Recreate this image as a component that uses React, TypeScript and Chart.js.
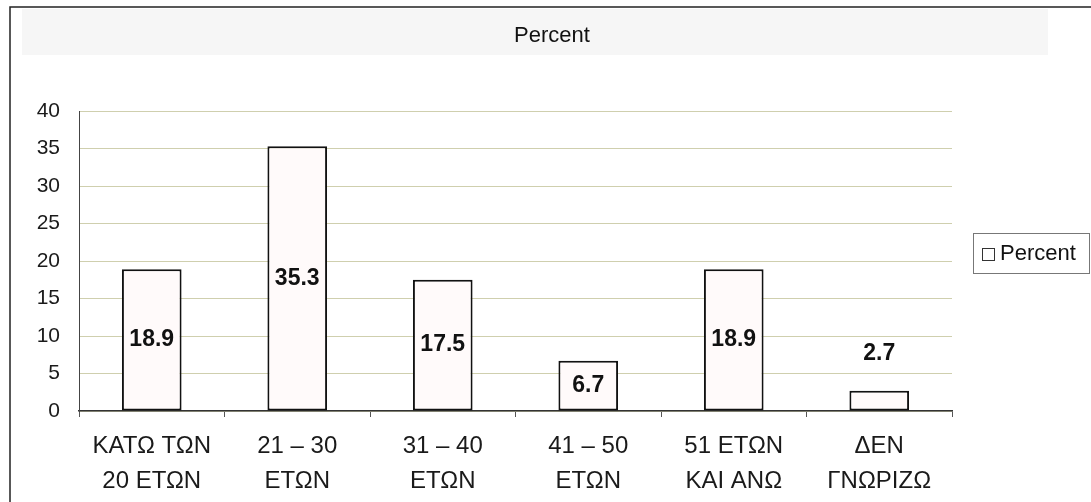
import React, { useEffect, useRef } from "react";
import { Chart, registerables } from "chart.js";

Chart.register(...registerables);

const categories: string[][] = [
  ["ΚΑΤΩ ΤΩΝ", "20 ΕΤΩΝ"],
  ["21 – 30", "ΕΤΩΝ"],
  ["31 – 40", "ΕΤΩΝ"],
  ["41 – 50", "ΕΤΩΝ"],
  ["51 ΕΤΩΝ", "ΚΑΙ ΑΝΩ"],
  ["ΔΕΝ", "ΓΝΩΡΙΖΩ"],
];
const percentValues: number[] = [18.9, 35.3, 17.5, 6.7, 18.9, 2.7];
const seriesName = "Percent";
const yTicks: number[] = [0, 5, 10, 15, 20, 25, 30, 35, 40];

const FONT = "Arial, 'Liberation Sans', sans-serif";

const decorPlugin = {
  id: "decor",
  beforeDraw(chart: any) {
    const ctx = chart.ctx;
    ctx.save();
    ctx.fillStyle = "#f6f6f6";
    ctx.fillRect(22, 9, 1026, 46);
    ctx.fillStyle = "#111";
    ctx.font = `22px ${FONT}`;
    ctx.textAlign = "center";
    ctx.textBaseline = "middle";
    ctx.fillText(seriesName, 552, 36);
    ctx.restore();
  },
  afterDraw(chart: any) {
    const ctx = chart.ctx;
    ctx.save();
    // outer frame (left & top)
    ctx.strokeStyle = "#222";
    ctx.lineWidth = 1.5;
    ctx.beginPath();
    ctx.moveTo(10, 502);
    ctx.lineTo(10, 7);
    ctx.lineTo(1091, 7);
    ctx.stroke();

    // data labels
    const meta = chart.getDatasetMeta(0);
    const data = chart.data.datasets[0].data as number[];
    ctx.font = `bold 23px ${FONT}`;
    ctx.fillStyle = "#111";
    ctx.textAlign = "center";
    ctx.textBaseline = "middle";
    meta.data.forEach((el: any, i: number) => {
      const h = el.base - el.y;
      const y = h < 30 ? el.y - 37 : (el.y + el.base) / 2;
      ctx.fillText(String(data[i]), el.x, y);
    });

    // legend
    ctx.strokeStyle = "#777";
    ctx.lineWidth = 1;
    ctx.strokeRect(973.5, 233.5, 116, 40);
    ctx.fillStyle = "#ffffff";
    ctx.fillRect(982, 248, 12, 12);
    ctx.strokeStyle = "#333";
    ctx.strokeRect(982.5, 248.5, 12, 12);
    ctx.fillStyle = "#111";
    ctx.font = `22px ${FONT}`;
    ctx.textAlign = "left";
    ctx.textBaseline = "middle";
    ctx.fillText(seriesName, 1000, 254);
    ctx.restore();
  },
};

export default function App() {
  const ref = useRef<HTMLCanvasElement | null>(null);
  useEffect(() => {
    if (!ref.current) return;
    const chart = new Chart(ref.current, {
      type: "bar",
      data: {
        labels: categories,
        datasets: [
          {
            label: seriesName,
            data: percentValues,
            backgroundColor: "#fffafa",
            borderColor: "#111",
            borderWidth: 2,
            borderSkipped: false,
            barPercentage: 0.41,
            categoryPercentage: 1,
          },
        ],
      },
      options: {
        responsive: false,
        animation: false,
        layout: { padding: { left: 0, right: 139, top: 111, bottom: 0 } },
        plugins: {
          legend: { display: false },
          tooltip: { enabled: false },
          title: { display: false },
        },
        scales: {
          x: {
            grid: {
              offset: true,
              drawOnChartArea: false,
              drawTicks: true,
              tickLength: 6,
              color: "#555",
            },
            border: { color: "#333", width: 1.5 },
            ticks: {
              color: "#1a1a1a",
              font: { family: FONT, size: 24, lineHeight: 1.45 },
              padding: 12,
              maxRotation: 0,
              autoSkip: false,
            },
            afterFit(scale: any) {
              scale.height = 91;
            },
          },
          y: {
            min: 0,
            max: 40,
            afterBuildTicks(scale: any) {
              scale.ticks = yTicks.map((v) => ({ value: v }));
            },
            grid: { color: "#cfcfae", lineWidth: 1, drawTicks: false },
            border: { color: "#444", width: 1 },
            ticks: {
              color: "#1a1a1a",
              font: { family: FONT, size: 21 },
              padding: 19,
            },
            afterFit(scale: any) {
              scale.width = 79;
            },
          },
        },
      },
      plugins: [decorPlugin],
    });
    return () => chart.destroy();
  }, []);
  return (
    <div style={{ position: "absolute", left: 0, top: 0, width: 1091, height: 502, background: "#fff" }}>
      <canvas ref={ref} width={1091} height={502} style={{ display: "block" }} />
    </div>
  );
}
